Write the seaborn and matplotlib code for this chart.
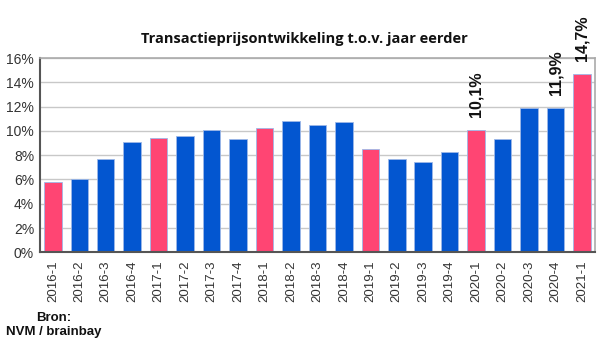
import matplotlib
matplotlib.use("Agg")
import matplotlib.pyplot as plt
import seaborn as sns
import pandas as pd
from matplotlib.ticker import FuncFormatter

periods = ["2016-1", "2016-2", "2016-3", "2016-4", "2017-1", "2017-2", "2017-3", "2017-4",
           "2018-1", "2018-2", "2018-3", "2018-4", "2019-1", "2019-2", "2019-3", "2019-4",
           "2020-1", "2020-2", "2020-3", "2020-4", "2021-1"]
values = [5.8, 6.0, 7.7, 9.1, 9.4, 9.6, 10.1, 9.3,
          10.2, 10.8, 10.5, 10.7, 8.5, 7.7, 7.4, 8.3,
          10.1, 9.3, 11.9, 11.9, 14.7]
quarter = [p.split("-")[1] for p in periods]
labelled = {"2020-1": "10,1%", "2020-4": "11,9%", "2021-1": "14,7%"}

title = "Transactieprijsontwikkeling t.o.v. jaar eerder"
source = "Bron:\nNVM / brainbay"

BLUE = "#0356D0"
PINK = "#FF4573"

df = pd.DataFrame({"periode": periods, "waarde": values,
                   "kwartaal": ["Q1" if q == "1" else "Qx" for q in quarter]})

sns.set_style("white")
plt.rcParams["font.family"] = ["Liberation Sans", "DejaVu Sans"]

fig = plt.figure(figsize=(6.0, 3.63), dpi=100)
ax = fig.add_axes([0.066, 0.305, 0.926, 0.535])

sns.barplot(data=df, x="periode", y="waarde", hue="kwartaal",
            palette={"Q1": PINK, "Qx": BLUE}, dodge=False, width=0.66,
            legend=False, ax=ax, linewidth=0.6, edgecolor="#9db8e8", saturation=1)

ax.set_ylim(0, 16)
ax.set_yticks(range(0, 17, 2))
ax.yaxis.set_major_formatter(FuncFormatter(lambda v, _: f"{int(v)}%"))
ax.set_xlim(-0.5, len(periods) - 0.5)
ax.grid(axis="y", color="#c8c8c8", linewidth=1)
ax.set_axisbelow(True)
ax.set_xlabel("")
ax.set_ylabel("")
ax.tick_params(axis="x", rotation=90, labelsize=9.5, colors="#333333", length=0, pad=6)
ax.tick_params(axis="y", labelsize=10, colors="#333333", length=0, pad=4)

for s in ["left", "bottom"]:
    ax.spines[s].set_color("#555555")
    ax.spines[s].set_linewidth(1.5)
for s in ["top", "right"]:
    ax.spines[s].set_color("#aaaaaa")
    ax.spines[s].set_linewidth(1.2)

for i, (p, v) in enumerate(zip(periods, values)):
    if p in labelled:
        ax.annotate(labelled[p], xy=(i, v), xytext=(0, 9), textcoords="offset points",
                    rotation=90, ha="center", va="bottom", fontsize=11.5,
                    fontweight="bold", color="#111111", annotation_clip=False)

fig.text(0.508, 0.872, title, ha="center", va="bottom", fontsize=10.5,
         fontweight="bold", family=["Open Sans", "DejaVu Sans"], color="#111111")
fig.text(0.09, 0.07, source, ha="center", va="bottom", fontsize=9.5,
         fontweight="bold", color="#111111", linespacing=1.15)

fig.savefig("out.png", dpi=100)
